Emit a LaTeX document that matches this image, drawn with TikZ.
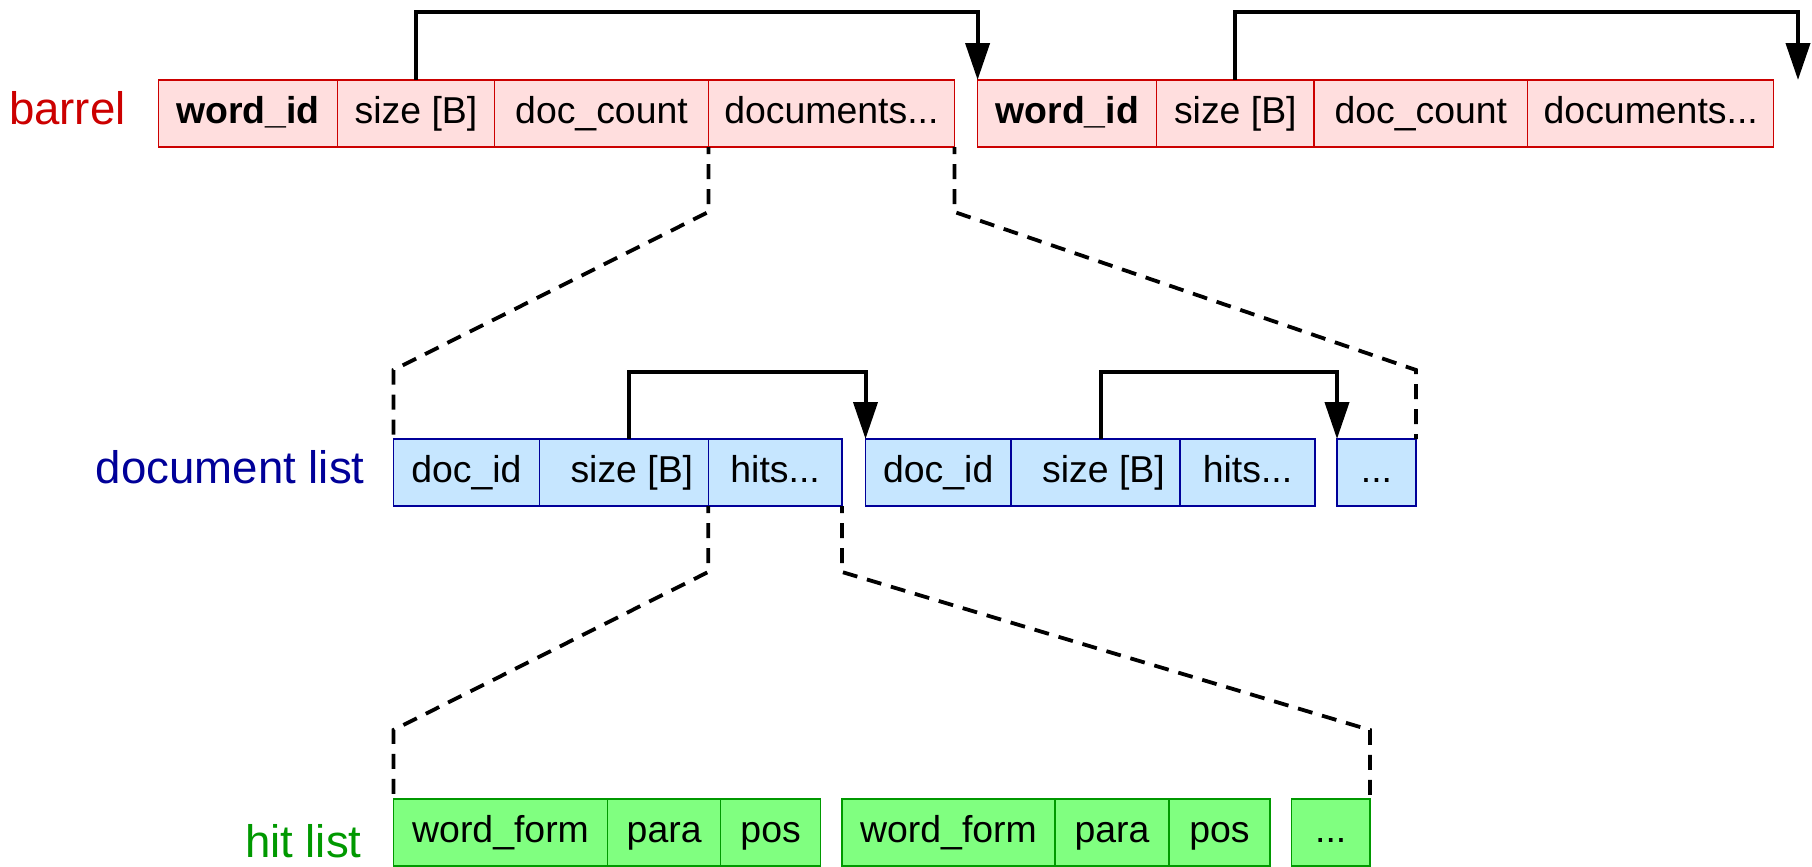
\documentclass[tikz,border=0pt]{standalone}
\usepackage{fontspec}
\setmainfont{Liberation Sans}
\usetikzlibrary{arrows.meta,calc}
\definecolor{bfill}{RGB}{255,222,222}
\definecolor{bdraw}{RGB}{204,0,0}
\definecolor{dfill}{RGB}{198,230,255}
\definecolor{ddraw}{RGB}{0,0,153}
\definecolor{hfill}{RGB}{128,255,128}
\definecolor{hdraw}{RGB}{0,153,0}
\tikzset{
 cell/.style={rectangle, draw, line width=0.6pt, inner sep=0pt, outer sep=0pt,
   minimum height=33.5pt, font=\fontsize{18.7}{22}\selectfont,
   text height=14pt, text depth=3.9pt},
 bcell/.style={cell, fill=bfill, draw=bdraw},
 dcell/.style={cell, fill=dfill, draw=ddraw},
 hcell/.style={cell, fill=hfill, draw=hdraw},
 lbl/.style={font=\fontsize{22.8}{26}\selectfont, inner sep=0pt, anchor=base east},
 ptr/.style={line width=2pt, -{Triangle[length=18.5pt,width=12pt]}},
 zoomline/.style={line width=1.9pt, dash pattern=on 7.5pt off 5pt, dash phase=4pt},
}
\begin{document}
\begin{tikzpicture}[x=0.5pt,y=-0.5pt]
\fill[white] (0,0) rectangle (1812,867);
\useasboundingbox (0,0) rectangle (1812,867);

% barrel 1
\node[bcell, anchor=north west, minimum width=89.55pt] (b1a) at (158.3,80) {\textbf{word\_id}};
\node[bcell, anchor=west, minimum width=78.6pt] (b1b) at (b1a.east) {size [B]};
\node[bcell, anchor=west, minimum width=106.9pt] (b1c) at (b1b.east) {doc\_count};
\node[bcell, anchor=west, minimum width=123.05pt] (b1d) at (b1c.east) {documents...};
% barrel 2
\node[bcell, anchor=north west, minimum width=89.6pt] (b2a) at (977.6,80) {\textbf{word\_id}};
\node[bcell, anchor=west, minimum width=78.55pt] (b2b) at (b2a.east) {size [B]};
\node[bcell, anchor=west, minimum width=106.9pt] (b2c) at (b2b.east) {doc\_count};
\node[bcell, anchor=west, minimum width=123.05pt] (b2d) at (b2c.east) {documents...};

% document list
\node[dcell, anchor=north west, minimum width=73.05pt] (d1a) at (393.4,439) {doc\_id};
\node[dcell, anchor=west, minimum width=84.35pt] (d1b) at (d1a.east) {\hspace{8pt}size [B]};
\node[dcell, anchor=west, minimum width=66.9pt] (d1c) at (d1b.east) {hits...};
\node[dcell, anchor=north west, minimum width=72.75pt] (d2a) at (865.5,439) {doc\_id};
\node[dcell, anchor=west, minimum width=84.5pt] (d2b) at (d2a.east) {\hspace{8pt}size [B]};
\node[dcell, anchor=west, minimum width=67.5pt] (d2c) at (d2b.east) {hits...};
\node[dcell, anchor=north west, minimum width=39.5pt] (d3) at (1337,439) {...};

% hit list
\node[hcell, anchor=north west, minimum width=107.15pt] (h1a) at (393.4,799) {word\_form};
\node[hcell, anchor=west, minimum width=56.45pt] (h1b) at (h1a.east) {para};
\node[hcell, anchor=west, minimum width=50pt] (h1c) at (h1b.east) {pos};
\node[hcell, anchor=north west, minimum width=106.5pt] (h2a) at (842,799) {word\_form};
\node[hcell, anchor=west, minimum width=57pt] (h2b) at (h2a.east) {para};
\node[hcell, anchor=west, minimum width=50.5pt] (h2c) at (h2b.east) {pos};
\node[hcell, anchor=north west, minimum width=39.25pt] (h3) at (1291.5,799) {...};

% labels
\node[lbl, text=bdraw] (lb) at (126,124) {barrel};
\node[lbl, text=ddraw] (ld) at (365,483) {document list};
\node[lbl, text=hdraw] (lh) at (362,857) {hit list};

% pointers
\coordinate (top1) at (0,12);
\coordinate (b2end) at (1798,80);
\draw[ptr] (b1b.north) -- (b1b.north |- top1) -| (b2a.north west);
\draw[ptr] (b2b.north) -- (b2b.north |- top1) -| (b2end);
\coordinate (top2) at (0,372);
\draw[ptr] ([xshift=2.5pt]d1b.north) -- ([xshift=2.5pt]d1b.north |- top2) -| (d2a.north west);
\draw[ptr] ([xshift=2.5pt]d2b.north) -- ([xshift=2.5pt]d2b.north |- top2) -| (d3.north west);

% zoom lines
\draw[zoomline] (b1d.south west) -- ++(0,65) -- ($(d1a.north west)+(0,-69)$) -- (d1a.north west);
\draw[zoomline] (b1d.south east) -- ++(0,65) -- ($(d3.north east)+(0,-69)$) -- (d3.north east);
\draw[zoomline] (d1c.south west) -- ++(0,66) -- ($(h1a.north west)+(0,-69)$) -- (h1a.north west);
\draw[zoomline] (d1c.south east) -- ++(0,66) -- ($(h3.north east)+(0,-69)$) -- (h3.north east);
\end{tikzpicture}
\end{document}
